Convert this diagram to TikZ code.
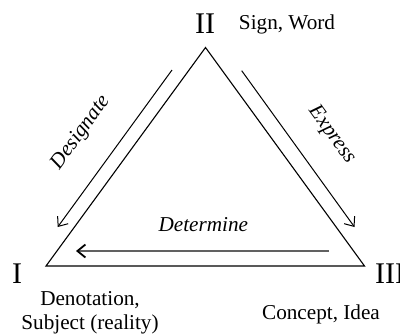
\documentclass[tikz,border=0pt]{standalone}
\usepackage{fontspec}
\setmainfont{Liberation Serif}
\usetikzlibrary{arrows.meta}
\begin{document}
\begin{tikzpicture}[x=0.5pt,y=-0.5pt,
  edge/.style={line width=0.55pt, line join=miter},
  rel/.style={line width=0.5pt,-{Straight Barb[length=4pt,width=6.5pt]}},
  relg/.style={line width=0.9pt,draw=black!62,-{Straight Barb[length=4pt,width=6.5pt,color=black]}},
  lbl/.style={font=\fontsize{10.6}{12}\selectfont, inner sep=0pt, anchor=base},
  num/.style={font=\fontsize{15}{17}\selectfont, inner sep=0pt, anchor=base},
  itl/.style={font=\fontsize{10.6}{12}\selectfont\itshape, inner sep=0pt}]
\useasboundingbox (0,0) rectangle (400,333);
\coordinate (A) at (205.5,47.5);
\coordinate (L) at (46,266);
\coordinate (R) at (364.5,266);
\draw[edge] (A) -- (L) -- (R) -- cycle;
% arrows
\coordinate (d1) at (172,70);
\coordinate (d2) at (57.7,227);
\coordinate (e1) at (241.7,70.7);
\coordinate (e2) at (354.5,227);
\coordinate (t1) at (329,251);
\coordinate (t2) at (76,251);
\draw[rel] (d1) -- (d2);
\draw[rel] (e1) -- (e2);
\draw[relg] (t1) -- (t2);
% labels
\node[itl, rotate=54] (des) at (80.8,132.5) {Designate};
\node[itl, rotate=-54] (exp) at (331.7,135) {Express};
\node[itl, anchor=base] (det) at (203.3,231.5) {Determine};
\node[num] (n2) at (205,33) {II};
\node[num] (n1) at (17,283) {I};
\node[num] (n3) at (390,283) {III};
\node[lbl] (sw) at (287,29.5) {Sign, Word};
\node[lbl] (den) at (90,305) {Denotation,};
\node[lbl] (sub) at (90,329) {Subject (reality)};
\node[lbl] (con) at (321,319) {Concept, Idea};
\end{tikzpicture}
\end{document}
